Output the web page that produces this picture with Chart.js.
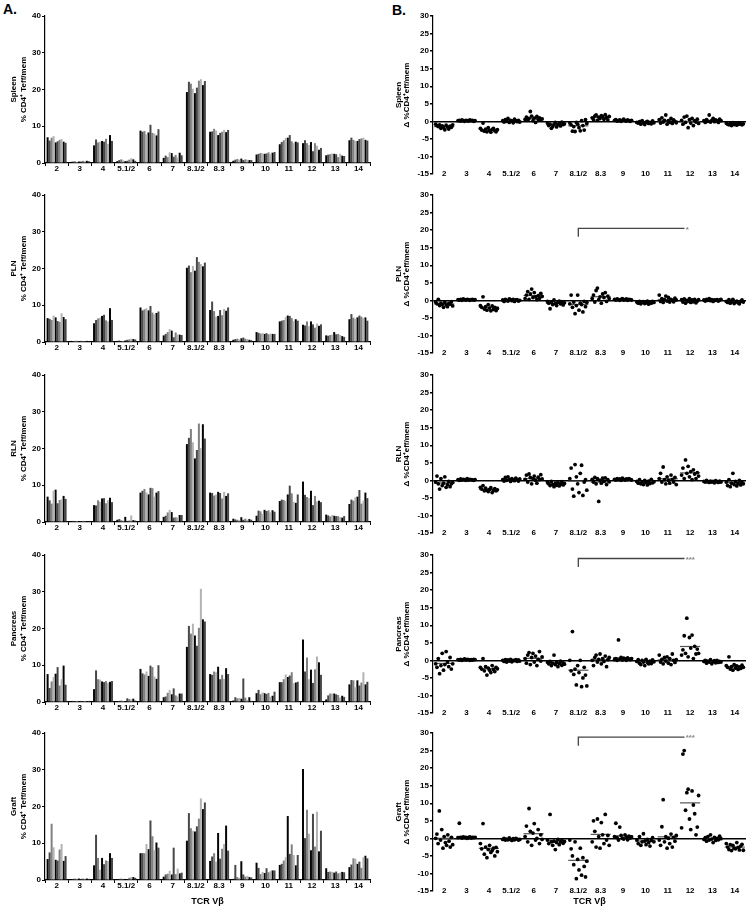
<!DOCTYPE html>
<html lang="en">
<head>
<meta charset="UTF-8">
<title>TCR Vbeta usage by tissue</title>
<script src="https://cdn.jsdelivr.net/npm/chart.js"></script>
<style>
  body { margin: 0; background: #fff; width: 750px; height: 911px; position: relative; overflow: hidden; font-family: 'Liberation Sans', Arial, sans-serif; }
  canvas { position: absolute; }
  .tag { position: absolute; font-weight: bold; font-size: 14px; color: #000; }
</style>
</head>
<body>
<div class="tag" style="left:3px;top:1px">A.</div>
<div class="tag" style="left:392px;top:2px">B.</div>
<div id="stage"></div>
<script>
// TCR Vbeta families on the x axis
const categories = ['2', '3', '4', '5.1/2', '6', '7', '8.1/2', '8.3', '9', '10', '11', '12', '13', '14'];
const tissues = ['Spleen', 'PLN', 'RLN', 'Pancreas', 'Graft'];

// panel A: % CD4+ Teff/mem, one row of bars (animals) per Vbeta family
const spleenPct = [
  [7.0, 6.1, 6.9, 7.3, 5.6, 5.9, 6.3, 6.5, 5.8, 5.5],
  [0.3, 0.4, 0.5, 0.3, 0.4, 0.4, 0.6, 0.5, 0.6, 0.5],
  [4.8, 6.4, 5.6, 5.8, 6.0, 5.8, 6.6, 5.2, 7.6, 6.0],
  [0.5, 0.8, 1.0, 0.7, 0.5, 0.6, 0.9, 1.3, 1.0, 0.6],
  [8.8, 8.5, 8.7, 7.8, 8.3, 10.4, 8.2, 8.0, 7.5, 9.2],
  [1.4, 2.0, 1.6, 2.9, 2.7, 1.7, 2.2, 1.5, 2.8, 2.1],
  [19.3, 22.1, 21.6, 20.2, 19.0, 20.5, 22.4, 22.8, 21.2, 22.3],
  [8.5, 8.6, 9.3, 8.8, 7.6, 8.2, 8.5, 9.0, 8.4, 9.0],
  [0.6, 0.9, 1.1, 0.9, 1.2, 0.8, 1.0, 0.9, 0.8, 0.8],
  [2.3, 2.5, 2.7, 2.6, 2.5, 2.6, 2.9, 2.4, 2.8, 3.0],
  [5.1, 5.7, 6.2, 6.8, 6.9, 7.6, 5.9, 5.4, 5.8, 5.6],
  [5.4, 6.2, 5.4, 4.9, 5.7, 3.2, 5.4, 4.7, 3.6, 4.1],
  [2.1, 2.3, 2.4, 2.6, 2.5, 2.4, 1.6, 2.5, 2.0, 1.9],
  [6.2, 6.9, 6.3, 6.0, 6.0, 6.5, 6.7, 6.9, 6.3, 6.1]
];
const plnPct = [
  [6.5, 6.3, 6.0, 7.2, 6.7, 5.7, 5.5, 7.8, 6.8, 6.2],
  [0.3, 0.2, 0.3, 0.4, 0.2, 0.3, 0.3, 0.2, 0.3, 0.2],
  [5.1, 6.0, 6.4, 6.6, 7.1, 7.4, 5.9, 5.6, 9.2, 6.0],
  [0.3, 0.4, 0.2, 0.3, 0.4, 0.6, 0.7, 0.9, 0.8, 0.7],
  [9.4, 8.6, 8.9, 9.2, 8.6, 9.8, 8.0, 7.5, 7.9, 8.3],
  [1.8, 2.2, 2.7, 3.5, 3.1, 1.3, 2.6, 2.0, 2.0, 1.9],
  [20.2, 20.8, 19.0, 20.7, 19.4, 23.1, 21.8, 21.2, 20.6, 21.6],
  [8.7, 11.0, 8.4, 6.9, 7.1, 8.7, 7.3, 9.0, 8.5, 9.4],
  [0.6, 0.8, 0.9, 0.7, 1.0, 1.2, 0.9, 0.8, 0.6, 0.5],
  [2.7, 2.5, 2.3, 2.4, 2.2, 2.4, 2.1, 2.3, 2.2, 2.2],
  [5.6, 5.8, 6.0, 6.8, 7.2, 7.1, 6.5, 5.7, 6.2, 5.8],
  [4.7, 4.5, 5.6, 4.3, 5.6, 4.8, 3.9, 5.0, 4.4, 4.8],
  [1.8, 1.7, 1.9, 2.0, 2.7, 2.1, 2.2, 1.9, 1.6, 1.4],
  [6.2, 7.6, 6.6, 6.3, 6.7, 7.2, 6.9, 6.5, 6.7, 5.8]
];
const rlnPct = [
  [6.9, 5.9, 5.0, 8.5, 8.8, 5.1, 6.0, 6.2, 7.1, 6.3],
  [0.2, 0.3, 0.2, 0.3, 0.2, 0.2, 0.3, 0.2, 0.2, 0.2],
  [4.6, 4.5, 5.9, 5.5, 6.4, 6.5, 5.1, 5.9, 6.6, 5.4],
  [0.6, 0.8, 0.5, 0.4, 1.4, 0.3, 0.4, 1.8, 0.5, 0.4],
  [8.0, 8.5, 9.0, 8.0, 7.5, 9.3, 9.2, 6.9, 8.0, 8.4],
  [1.4, 1.7, 2.6, 3.3, 2.7, 1.2, 1.3, 1.2, 1.9, 1.9],
  [21.2, 22.9, 25.3, 21.7, 17.3, 19.6, 26.8, 20.1, 26.6, 22.7],
  [8.0, 7.9, 7.2, 7.5, 8.2, 7.9, 6.4, 8.2, 7.1, 7.8],
  [0.9, 0.7, 0.6, 0.5, 1.3, 0.6, 0.9, 0.6, 0.8, 0.6],
  [1.7, 3.1, 2.9, 2.2, 3.3, 3.0, 3.2, 2.6, 3.2, 2.8],
  [5.7, 6.1, 6.0, 5.7, 7.5, 9.9, 7.8, 5.5, 5.2, 7.5],
  [11.0, 7.4, 6.8, 6.5, 8.5, 4.6, 7.1, 5.6, 5.8, 5.4],
  [2.0, 1.8, 1.5, 1.9, 1.7, 1.6, 1.6, 1.3, 1.2, 1.6],
  [4.9, 6.1, 5.8, 6.7, 6.9, 8.7, 5.0, 5.8, 8.0, 6.5]
];
const pancreasPct = [
  [7.6, 3.8, 5.6, 6.8, 7.7, 9.5, 4.5, 6.2, 9.9, 4.7],
  [0.2, 0.3, 0.2, 0.3, 0.2, 0.3, 0.2, 0.3, 0.2, 0.3],
  [3.5, 8.6, 6.2, 6.1, 5.6, 5.4, 5.7, 5.2, 5.5, 5.7],
  [0.2, 0.3, 0.4, 0.3, 0.2, 1.0, 0.8, 0.7, 0.9, 0.4],
  [9.0, 7.8, 7.5, 8.3, 7.1, 9.9, 9.5, 6.9, 6.3, 10.0],
  [1.3, 1.5, 2.5, 3.3, 2.1, 3.7, 1.8, 1.5, 2.3, 2.3],
  [15.0, 20.7, 18.6, 21.3, 18.1, 15.3, 20.2, 30.8, 22.5, 21.9],
  [7.6, 7.4, 8.3, 8.1, 9.6, 6.2, 7.4, 6.3, 9.2, 7.6],
  [0.4, 1.3, 1.0, 1.1, 0.9, 6.4, 1.2, 0.6, 1.3, 0.3],
  [2.4, 3.3, 2.1, 2.6, 2.4, 2.2, 2.5, 1.4, 1.7, 2.8],
  [5.4, 5.4, 6.2, 7.5, 6.8, 7.2, 8.1, 5.1, 5.3, 5.5],
  [17.0, 8.3, 12.1, 6.2, 8.8, 5.2, 8.9, 12.4, 10.8, 7.4],
  [0.7, 1.8, 2.3, 2.3, 2.3, 2.1, 1.9, 1.2, 1.7, 1.4],
  [4.8, 6.0, 5.9, 4.0, 5.9, 4.5, 5.3, 8.1, 4.8, 5.5]
];
const graftPct = [
  [5.7, 7.5, 15.3, 8.9, 5.5, 5.3, 8.3, 9.8, 5.2, 6.5],
  [0.2, 0.3, 0.4, 0.3, 0.4, 0.3, 0.4, 0.3, 0.4, 0.3],
  [4.0, 12.3, 6.0, 2.8, 6.0, 4.3, 5.3, 5.2, 7.3, 6.0],
  [0.2, 0.3, 0.4, 0.2, 0.3, 0.2, 0.6, 0.8, 0.8, 0.6],
  [7.3, 7.3, 7.3, 9.8, 8.4, 16.2, 11.9, 8.1, 10.2, 8.8],
  [0.9, 1.5, 1.7, 2.5, 1.5, 8.8, 1.6, 3.1, 1.8, 2.0],
  [10.7, 18.2, 14.1, 13.4, 13.2, 14.6, 16.7, 22.2, 19.3, 21.1],
  [5.2, 6.4, 7.3, 5.0, 12.8, 5.8, 8.5, 9.8, 14.8, 8.0],
  [0.3, 4.1, 0.8, 0.6, 5.1, 1.5, 0.9, 1.1, 0.8, 0.7],
  [4.7, 3.3, 1.6, 2.2, 1.9, 3.2, 2.1, 2.4, 2.6, 2.6],
  [4.1, 4.4, 5.3, 6.2, 17.4, 7.1, 9.7, 6.8, 4.0, 6.8],
  [30.2, 11.4, 19.1, 12.6, 8.1, 18.0, 9.1, 18.6, 7.8, 13.4],
  [3.2, 2.2, 2.3, 2.2, 2.0, 2.3, 1.8, 2.0, 2.2, 2.1],
  [3.5, 4.2, 5.9, 5.8, 4.4, 5.0, 3.3, 6.2, 6.6, 5.9]
];

// panel B: delta %CD4+ Teff/mem, one row of points per Vbeta family
const spleenDelta = [
  [-0.8, -1.2, -1.5, -1.0, -2.0, -1.3, -1.8, -2.4, -1.1, -1.6, -2.2, -1.4, -1.7, -1.0],
  [0.2, 0.3, 0.1, 0.4, 0.2, 0.0, 0.3, 0.2, 0.1, 0.4, 0.2, 0.3, 0.0, 0.2],
  [-2.0, -2.5, -0.5, -2.8, -2.2, -3.0, -1.8, -2.6, -3.1, -2.3, -2.0, -2.7, -3.0, -2.4],
  [0.2, -0.2, 0.5, 0.0, 0.8, -0.3, 0.3, 0.1, -0.4, 0.6, 0.2, -0.1, 0.3, -0.2],
  [0.5, 1.2, 0.3, 0.8, 2.8, 1.5, 0.2, 0.9, -0.3, 1.4, 0.6, 1.0, 0.4, 0.7],
  [-0.5, -1.2, -0.8, -2.0, -1.5, -0.9, -0.3, -1.6, -1.0, -0.6, -1.3, -0.2, -0.9, -0.7],
  [-0.5, -1.0, -2.8, -1.5, -2.9, -0.3, -0.8, -1.8, -2.7, 0.2, -1.2, -2.5, 0.5, -0.6],
  [1.0, 0.5, 1.5, 1.8, 0.3, 1.2, 0.8, 1.6, 1.3, 0.6, 1.9, 1.1, 0.4, 1.4],
  [0.3, 0.5, 0.1, 0.2, 0.4, 0.0, 0.3, 0.6, 0.2, 0.1, 0.4, 0.2, 0.0, 0.3],
  [-0.3, -0.5, -0.1, -0.8, 0.2, -0.4, -0.9, -0.2, 0.0, -0.6, -0.3, -0.7, 0.1, -0.4],
  [0.5, -0.5, 1.0, -0.2, 0.3, 1.8, -0.8, 0.2, -0.3, 0.8, -0.6, 0.4, 0.0, -0.4],
  [0.3, -0.8, 1.2, -0.3, 1.5, -1.8, 0.5, -0.5, 0.8, -1.2, 0.2, -0.2, 0.6, -0.6],
  [0.2, -0.3, 0.5, 0.0, 1.8, -0.2, 0.3, 0.8, -0.1, 0.4, 0.1, -0.3, 0.6, 0.2],
  [-0.5, -0.8, -1.0, -0.6, -1.2, -0.4, -0.9, -0.7, -1.1, -0.5, -0.8, -0.6, -1.0, -0.7]
];
const plnDelta = [
  [-0.5, -1.0, 0.3, -1.5, -0.8, -1.2, -2.0, -0.6, -1.3, -1.8, -0.9, -1.1, -0.4, -1.6],
  [0.2, 0.1, 0.3, 0.0, 0.4, 0.2, 0.1, 0.3, 0.2, 0.0, 0.2, 0.3, 0.1, 0.2],
  [-1.5, -2.0, 1.0, -2.5, -1.8, -2.8, -1.2, -2.2, -3.0, -1.6, -2.6, -2.0, -2.9, -2.3],
  [0.1, -0.3, 0.3, 0.0, -0.2, 0.4, 0.2, -0.1, 0.3, -0.3, 0.1, 0.2, -0.2, 0.0],
  [0.5, 1.5, 2.5, 0.3, 1.8, 3.2, 0.8, 2.2, 1.0, 0.2, 1.3, 0.6, 2.0, 1.1],
  [-0.3, -0.8, -2.4, -0.5, -1.2, 0.1, -0.9, -1.5, -0.6, -0.2, -1.0, -0.4, -1.3, -0.7],
  [-1.0, 1.5, -2.0, -0.5, -3.8, -1.5, 1.5, -2.8, -0.8, -1.2, -3.3, -0.3, -1.8, -0.6],
  [0.5, 1.5, -0.5, 2.8, 3.5, 0.2, 1.0, -0.8, 1.8, 0.8, 2.2, -0.3, 1.2, 0.5],
  [0.3, 0.1, 0.4, 0.2, 0.0, 0.3, 0.5, 0.1, 0.2, 0.4, 0.0, 0.3, 0.2, 0.1],
  [-0.5, -0.8, -0.3, -1.0, -0.6, -0.4, -0.9, -0.7, -0.2, -1.1, -0.5, -0.8, -0.3, -0.6],
  [1.5, -0.3, 0.5, -0.6, 0.2, 1.2, -0.2, 0.8, -0.5, 0.3, 0.0, -0.4, 0.6, 0.1],
  [0.2, -0.5, 0.4, -0.8, 0.0, -0.3, 0.5, -0.6, 0.1, -0.4, 0.3, -0.7, -0.2, 0.2],
  [0.1, -0.2, 0.3, 0.0, 0.5, -0.1, 0.2, -0.3, 0.1, 0.0, 0.2, -0.2, 0.1, 0.3],
  [-0.3, -0.6, 0.2, -0.8, -0.4, 0.3, -0.9, -0.5, -0.2, -0.7, -1.0, -0.3, 0.1, -0.5]
];
const rlnDelta = [
  [-0.5, 1.2, -1.0, -2.5, 0.5, -1.5, -0.8, 1.0, -2.0, -1.2, -0.3, -1.8, -1.0, -0.6],
  [0.2, 0.0, 0.4, 0.1, 0.3, 0.2, 0.0, 0.5, 0.1, 0.3, 0.2, 0.1, 0.0, 0.2],
  [-2.0, -2.5, -1.5, -3.0, -2.2, -2.8, -3.2, -2.6, -2.1, -3.5, -2.9, -2.4, -3.0, -2.7],
  [0.2, -0.2, 0.8, 0.0, 1.0, 0.3, -0.3, 0.5, 0.1, -0.1, 0.6, 0.2, -0.2, 0.4],
  [0.3, 1.5, -0.5, 1.8, 0.8, -1.0, 0.5, 1.2, 0.0, -0.8, 0.9, 0.2, 1.6, 0.4],
  [-0.5, -1.0, -1.5, -0.3, -1.2, -1.8, -0.8, -1.4, -0.6, -1.6, -1.1, -0.4, -1.3, -0.9],
  [0.5, 3.5, -2.5, -4.5, 4.5, 1.0, -1.0, -3.5, 2.0, 4.3, -4.3, -0.5, 0.2, -2.8],
  [0.3, -0.5, 0.8, -1.0, 0.5, -6.0, 0.0, -0.8, 0.6, -0.3, 0.7, -1.2, 0.2, -0.4],
  [0.3, 0.1, 0.5, 0.2, 0.4, 0.0, 0.6, 0.3, 0.1, 0.4, 0.2, 0.5, 0.3, 0.1],
  [-0.3, -0.8, 0.2, -1.0, -0.5, -1.2, 0.0, -0.6, -1.3, -0.2, -0.9, 0.3, -0.7, -0.4],
  [0.5, 2.0, -0.5, 3.8, 0.2, -1.0, 1.0, 0.0, -0.8, 1.5, 0.3, -0.5, 0.8, -1.2],
  [1.5, 3.5, 0.5, 5.8, 2.0, 4.0, 1.0, 2.5, 0.2, 3.0, 1.8, 0.5, 2.2, 1.2],
  [-0.3, -0.5, 0.0, -0.4, -0.6, -0.2, -0.5, -0.3, -0.7, -0.1, -0.4, -0.6, -0.2, -0.5],
  [-0.5, -1.5, 0.2, -1.8, -0.8, 2.0, -1.2, -0.3, -1.6, -0.9, 0.0, -1.3, -0.6, -1.0]
];
const pancreasDelta = [
  [-1.0, -2.0, 0.5, -3.8, -1.5, 2.0, -2.8, -1.2, 2.5, -0.5, -1.8, 0.8, -2.5, -1.0],
  [0.2, 0.1, 0.3, 0.0, 0.2, 0.4, 0.1, 0.3, 0.2, 0.0, 0.2, 0.1, 0.3, 0.2],
  [-2.0, -2.5, 0.5, -3.0, -1.8, -4.2, -2.2, -2.8, -3.5, -1.5, -2.6, -3.2, -2.0, -2.4],
  [0.0, -0.3, 0.2, -0.5, 0.1, -0.2, 0.3, -0.4, 0.0, -0.1, 0.2, -0.3, 0.1, -0.2],
  [0.5, -0.8, 1.5, 2.2, -1.2, 0.8, 2.0, -0.5, 1.2, -1.5, 0.3, 2.5, -0.2, 1.0],
  [-0.5, -1.0, -0.3, -1.5, -0.8, 1.5, -1.2, -0.6, -1.8, -0.9, -0.2, -1.4, -0.7, -1.1],
  [0.0, -3.0, 8.2, -4.0, -2.5, -7.0, -1.5, -3.5, 0.0, -7.5, -5.0, -2.0, -4.2, -7.3],
  [0.0, -1.5, 0.8, 1.5, -0.5, 0.3, 1.8, -1.0, 0.5, -0.3, 1.2, -1.8, 0.2, 0.8],
  [0.2, 0.5, 0.0, 5.8, 0.3, 0.8, 0.1, 0.6, 0.4, 0.0, 0.7, 0.3, 0.2, 0.5],
  [-0.3, 0.2, -0.8, -1.2, 0.0, -0.5, -1.5, 0.3, -0.6, -1.0, -0.2, -0.9, 0.1, -0.4],
  [1.5, -0.5, 0.3, -1.0, 0.8, -0.2, 1.0, -0.8, 0.5, -1.2, 1.8, 0.0, -0.6, 0.2],
  [1.5, 3.0, 7.0, 2.0, 12.0, 1.0, 6.5, 3.5, 7.2, 0.5, 4.0, 1.8, 3.2, 2.0],
  [-0.3, 0.0, -0.8, -0.2, -0.5, 0.2, -1.0, -0.4, -0.1, -0.7, 0.0, -0.6, -0.3, -0.5],
  [-1.5, -2.0, 1.0, -2.5, -1.8, -2.8, -1.2, -2.2, -1.6, -2.6, -1.9, -2.3, -1.4, -2.0]
];
const graftDelta = [
  [0.0, 1.2, -1.5, 7.8, -0.5, 2.5, -2.8, 0.5, -1.2, -2.0, 1.0, -0.8, -2.5, 0.3, -1.8],
  [0.2, 4.3, 0.3, 0.1, 0.4, 0.2, 0.3, 0.0, 0.2, 0.4, 0.1, 0.3, 0.2, 0.3],
  [-1.5, -3.0, 4.2, -4.5, -2.5, -5.5, -3.2, -2.0, -4.0, -3.5, -2.8, -5.0, -2.6, -3.8],
  [-0.3, 0.0, -0.5, -0.2, -0.4, 0.1, -0.3, -0.6, -0.1, -0.4, 0.0, -0.2, -0.5, -0.3],
  [0.5, 3.5, -1.0, 8.5, 2.0, -2.0, 1.5, 4.2, -0.5, 0.0, 2.5, -1.5, 1.0, -0.3],
  [-0.5, -1.5, 6.8, -1.0, -2.0, -0.8, -3.2, -1.2, -0.3, -1.8, -1.0, -0.6, -1.4, -0.9],
  [-0.5, -3.0, -5.0, -7.5, -1.0, -11.5, -6.0, -9.0, -2.8, -10.5, -5.5, -8.0, -11.0, -6.5],
  [-1.0, 5.0, 2.0, -2.5, 5.5, 0.5, -2.8, 4.5, 1.0, -1.5, 6.8, -0.5, 0.8, -2.0],
  [0.5, 4.3, 0.2, -0.5, 3.2, 0.8, 0.0, -0.2, 1.0, 0.3, -0.4, 0.6, 0.1, 0.4],
  [-0.5, -1.5, 0.5, -2.0, -1.0, 1.3, -0.8, -1.8, -0.3, -1.2, -2.2, -0.6, 0.2, -1.0],
  [-0.5, -2.0, 3.3, 11.0, -1.0, 0.5, -2.8, 0.0, -1.5, 1.2, -2.5, 0.3, -0.8, 0.8],
  [3.0, 24.0, 25.0, 8.0, 13.0, 14.0, 5.5, 2.5, 13.5, 9.5, 7.0, 1.0, 3.2, 12.2],
  [-0.3, 0.2, -0.8, 0.5, -0.5, 1.0, -0.2, -1.2, 0.3, -0.6, 0.0, -0.4, 0.6, -0.1],
  [-1.5, -2.5, -3.2, -1.8, -3.5, -2.0, -2.8, -3.0, -1.2, -2.6, -3.3, -2.2, -1.7, -3.4]
];

// significance bracket from 8.1/2 to 12 (label and height in delta units)
const sigLabels = [null, '*', null, '***', '***'];
const sigLevels = [null, 20.5, null, 29, 28.8];

const pctByTissue = [spleenPct, plnPct, rlnPct, pancreasPct, graftPct];
const deltaByTissue = [spleenDelta, plnDelta, rlnDelta, pancreasDelta, graftDelta];

Chart.defaults.font.family = "'Liberation Sans', Arial, sans-serif";
Chart.defaults.font.weight = 'bold';
Chart.defaults.color = '#000';

const barShades = ['#050505', '#474747', '#808080', '#b3b3b3'];
const panelTops = [0, 179, 359, 539, 717];
const stage = document.getElementById('stage');

function makeCanvas(left, top, w, h) {
  const c = document.createElement('canvas');
  c.width = w; c.height = h;
  c.style.left = left + 'px'; c.style.top = top + 'px';
  stage.appendChild(c);
  return c;
}

const starPlugin = {
  id: 'stars',
  afterDatasetsDraw(chart, args, opts) {
    if (!opts.text) return;
    const { ctx, scales: { x, y } } = chart;
    ctx.save();
    ctx.fillStyle = '#888';
    ctx.font = "bold 8px 'Liberation Sans', Arial";
    ctx.textAlign = 'left';
    ctx.textBaseline = 'middle';
    ctx.fillText(opts.text, x.getPixelForValue(opts.x), y.getPixelForValue(opts.y) + 1);
    ctx.restore();
  }
};

tissues.forEach((name, p) => {
  const last = p === tissues.length - 1;
  const H = last ? 194 : 180;
  const top = panelTops[p];

  // ---- A: grouped bars
  const groups = pctByTissue[p];
  const barSets = groups[0].map((_, j) => ({
    data: groups.map(g => g[j]),
    backgroundColor: barShades[j % barShades.length],
    borderWidth: 0,
    barPercentage: 1,
    categoryPercentage: 0.86
  }));
  new Chart(makeCanvas(0, top, 372, H), {
    type: 'bar',
    data: { labels: categories, datasets: barSets },
    options: {
      responsive: false, animation: false, devicePixelRatio: 1,
      layout: { padding: { top: 16, right: 2, left: 0, bottom: 0 } },
      plugins: { legend: { display: false }, tooltip: { enabled: false } },
      scales: {
        x: {
          grid: { drawOnChartArea: false, offset: true, color: '#000', tickLength: 3 },
          border: { color: '#000', width: 1.2 },
          ticks: { font: { size: 8, weight: 'bold' }, padding: -2, maxRotation: 0, autoSkip: false },
          title: { display: last, text: 'TCR Vβ', font: { size: 9, weight: 'bold' }, padding: { top: 0, bottom: 4 } },
          afterFit: s => { s.height = H - 16 - 147; }
        },
        y: {
          min: 0, max: 40,
          ticks: { stepSize: 10, font: { size: 8, weight: 'bold' }, padding: 1 },
          grid: { drawOnChartArea: false, color: '#000', tickLength: 3 },
          border: { color: '#000', width: 1.2 },
          title: { display: true, text: [name, '% CD4⁺ Teff/mem'], font: { size: 8, weight: 'bold', lineHeight: 1.35 }, padding: { top: 8, bottom: 0 } },
          afterFit: s => { s.width = 45; }
        }
      }
    }
  });

  // ---- B: dot plot with group means
  const deltas = deltaByTissue[p];
  const dots = [];
  deltas.forEach((vals, i) => {
    vals.forEach((v, j) => dots.push({ x: i - 0.38 + 0.76 * j / (vals.length - 1), y: v }));
  });
  const meanSets = deltas.map((vals, i) => {
    const m = vals.reduce((a, b) => a + b, 0) / vals.length;
    return {
      data: [{ x: i - 0.45, y: m }, { x: i + 0.45, y: m }],
      showLine: true, borderColor: '#555', borderWidth: 1.2, pointRadius: 0
    };
  });
  const sets = [{ data: dots, pointRadius: 1.9, backgroundColor: '#000', borderWidth: 0 }].concat(meanSets);
  const from = categories.indexOf('8.1/2'), to = categories.indexOf('12');
  if (sigLabels[p]) {
    const L = sigLevels[p];
    sets.push({
      data: [{ x: from, y: L - 2.4 }, { x: from, y: L }, { x: to - 0.25, y: L }],
      showLine: true, borderColor: '#444', borderWidth: 1.3, pointRadius: 0
    });
  }
  new Chart(makeCanvas(380, top, 370, H), {
    type: 'scatter',
    data: { datasets: sets },
    plugins: [starPlugin],
    options: {
      responsive: false, animation: false, devicePixelRatio: 1,
      layout: { padding: { top: 16, right: 4, left: 0, bottom: 0 } },
      plugins: {
        legend: { display: false }, tooltip: { enabled: false },
        stars: { text: sigLabels[p], x: to - 0.2, y: sigLevels[p] }
      },
      scales: {
        x: {
          type: 'linear', min: -0.5, max: 13.5,
          afterBuildTicks: s => { s.ticks = categories.map((c, i) => ({ value: i })); },
          // mirrored labels sit on the -15 line, as in the original
          ticks: { callback: v => categories[v], font: { size: 8, weight: 'bold' }, mirror: true, padding: -5, maxRotation: 0, autoSkip: false },
          grid: { display: false, drawTicks: false },
          border: { display: false },
          title: { display: last, text: 'TCR Vβ', font: { size: 9, weight: 'bold' }, padding: { top: 0, bottom: 4 } },
          afterFit: s => { s.height = H - 16 - 158; }
        },
        y: {
          min: -15, max: 30,
          ticks: { stepSize: 5, font: { size: 8, weight: 'bold' }, padding: 1 },
          grid: {
            color: c => (c.tick && c.tick.value === 0 ? '#000' : 'rgba(0,0,0,0)'),
            lineWidth: 1.4, tickColor: '#000', tickLength: 3
          },
          border: { color: '#000', width: 1.2 },
          title: { display: true, text: [name, 'Δ %CD4⁺eff/mem'], font: { size: 8, weight: 'bold', lineHeight: 1.1 }, padding: { top: 14, bottom: 0 } },
          afterFit: s => { s.width = 53; }
        }
      }
    }
  });
});
</script>
</body>
</html>
